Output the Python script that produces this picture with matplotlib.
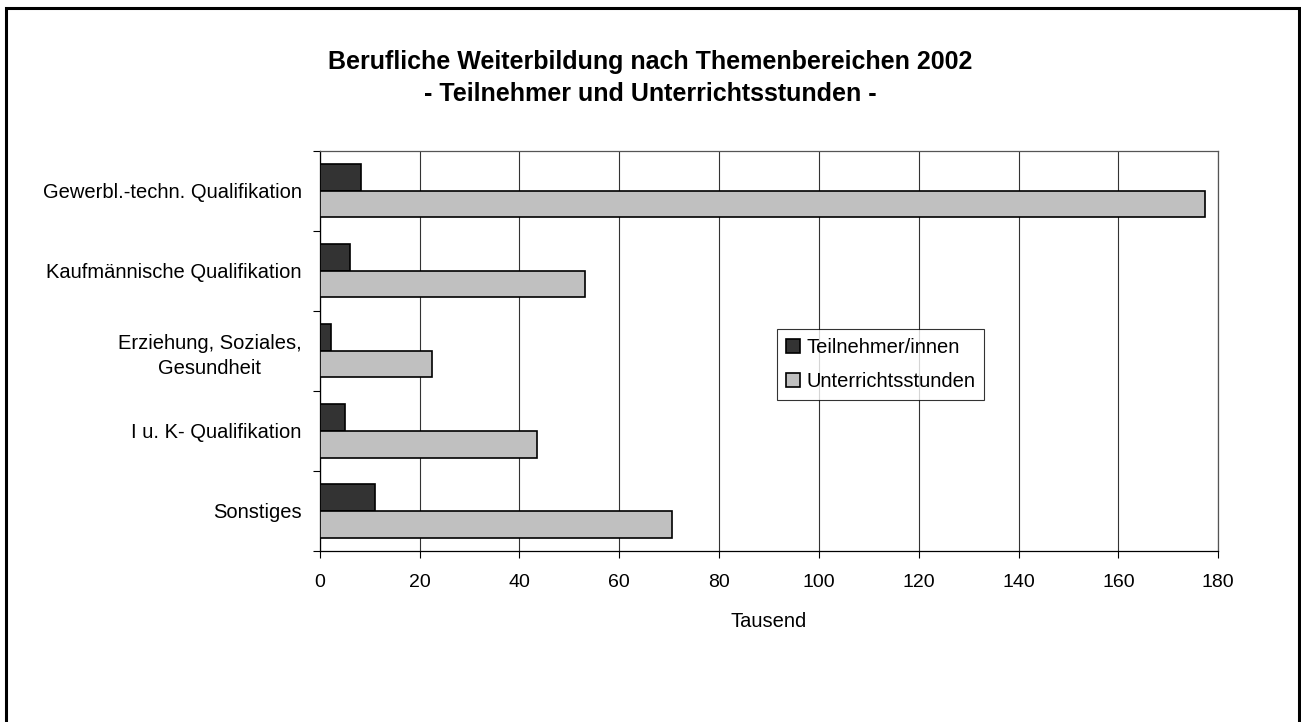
import numpy as np
import matplotlib.pyplot as plt
from matplotlib.patches import Rectangle

# Werte in Tausend
kategorien = ["Gewerbl.-techn. Qualifikation", "Kaufmännische Qualifikation",
              "Erziehung, Soziales,\nGesundheit", "I u. K- Qualifikation", "Sonstiges"]
teilnehmer = [8.3, 6.0, 2.3, 5.0, 11.0]
unterrichtsstunden = [177.3, 53.1, 22.4, 43.6, 70.6]
x_ticks = [0, 20, 40, 60, 80, 100, 120, 140, 160, 180]

plt.rcParams['font.family'] = ['Liberation Sans', 'DejaVu Sans']

W, H = 1301, 722
fig = plt.figure(figsize=(W / 100, H / 100), dpi=100)
ax = fig.add_axes([319.7 / W, 1 - 551 / H, (1218.3 - 319.7) / W, (551 - 150.5) / H])

pos = np.arange(len(kategorien))
h = 1 / 3
ax.barh(pos - h / 2, teilnehmer, height=h, color="#333333", edgecolor="black",
        linewidth=1.2, label="Teilnehmer/innen", zorder=3)
ax.barh(pos + h / 2, unterrichtsstunden, height=h, color="#c0c0c0", edgecolor="black",
        linewidth=1.2, label="Unterrichtsstunden", zorder=3)

ax.set_ylim(len(kategorien) - 0.5, -0.5)
ax.set_xlim(0, 180)
ax.set_xticks(x_ticks)
ax.tick_params(axis="x", labelsize=14, length=5, width=0.8, pad=11.5)
ax.grid(axis="x", color="#333333", linewidth=0.8, zorder=0)

# Ticks an den Kategoriegrenzen, Beschriftungen in der Mitte
ax.set_yticks(np.arange(len(kategorien) + 1) - 0.5)
ax.set_yticklabels([])
ax.tick_params(axis="y", which="major", length=5, width=0.8)
ax.set_yticks(pos, minor=True)
ax.set_yticklabels(kategorien, minor=True, fontsize=14.5, multialignment="center",
                   linespacing=1.4)
ax.tick_params(axis="y", which="minor", length=0, pad=13)

for s in ["left", "bottom"]:
    ax.spines[s].set_color("black")
    ax.spines[s].set_linewidth(0.9)
for s in ["top", "right"]:
    ax.spines[s].set_color("#555555")
    ax.spines[s].set_linewidth(0.9)

ax.set_xlabel("Tausend", fontsize=14.5, labelpad=15)

fig.text(0.5, 1 - 62 / H, "Berufliche Weiterbildung nach Themenbereichen 2002",
         ha="center", va="center", fontsize=18, fontweight="bold")
fig.text(0.5, 1 - 94 / H, "- Teilnehmer und Unterrichtsstunden -",
         ha="center", va="center", fontsize=18, fontweight="bold")

leg = ax.legend(loc="upper left", bbox_to_anchor=((777 - 319.7) / (1218.3 - 319.7),
                                                  (551 - 329) / (551 - 150.5)),
                fontsize=14.5, frameon=True, fancybox=False, edgecolor="black",
                handlelength=0.7, handleheight=0.7, handletextpad=0.3,
                labelspacing=0.75, borderpad=0.45, borderaxespad=0)
leg.get_frame().set_linewidth(0.8)

# Rahmen um die ganze Grafik
fig.patches.append(Rectangle((6 / W, -0.05), (1299 - 6) / W, 1.05 - 7.5 / H,
                             transform=fig.transFigure, fill=False,
                             edgecolor="black", linewidth=2.2))

fig.savefig("out.png", dpi=100)
